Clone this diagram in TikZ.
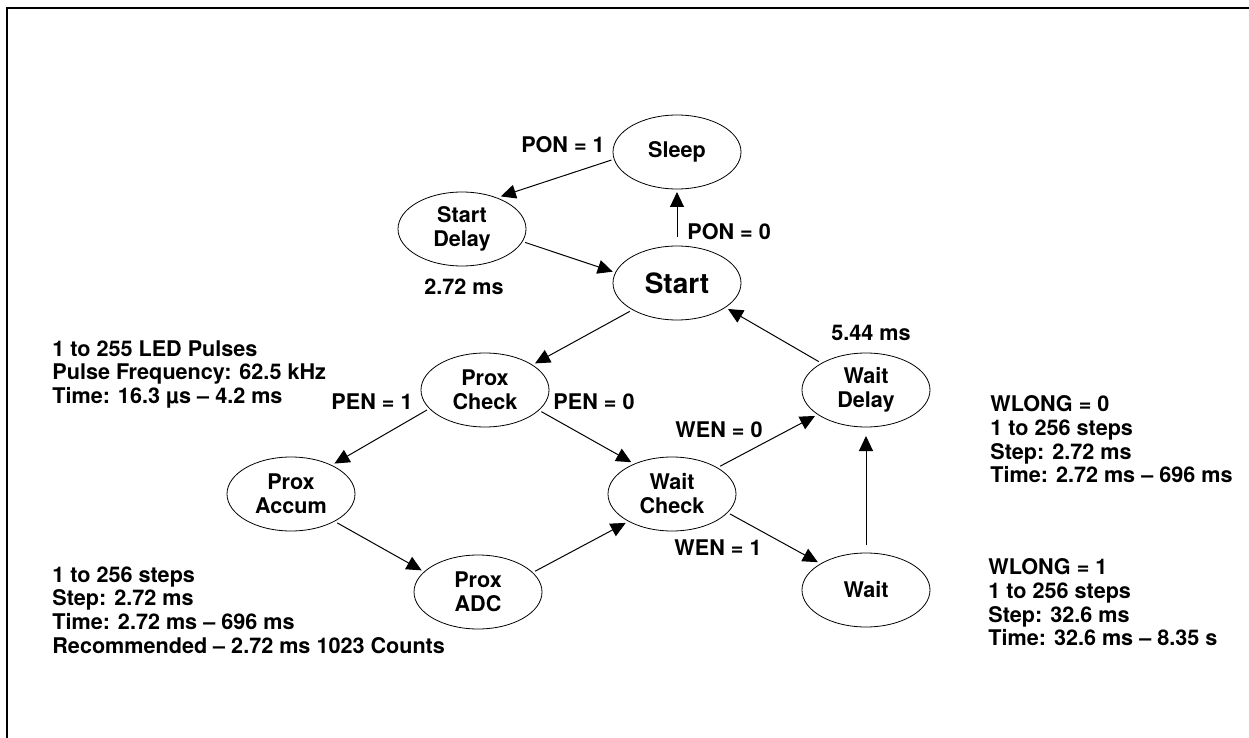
\documentclass[tikz,border=0pt]{standalone}
\usepackage{fontspec}
\setmainfont{TeX Gyre Heros}
\usetikzlibrary{arrows.meta,shapes.geometric}

\tikzset{
    state/.style = {draw, ellipse, minimum width=64pt, minimum height=37pt, inner sep=0pt, outer sep=1.5pt, align=center, font=\fontsize{10.8}{12}\selectfont\bfseries},
    lbl/.style = {inner sep=0pt, font=\fontsize{10.8}{12}\selectfont\bfseries},
    info/.style = {inner sep=0pt, anchor=north west, align=left, font=\fontsize{10.8}{11.9}\selectfont\bfseries},
    trans/.style = {-{Triangle[length=7.5pt,width=7pt]}, line width=.5pt}
}

\begin{document}
\begin{tikzpicture}[x=.5pt, y=-.5pt]
        \useasboundingbox (0,0) rectangle (1249,738);
        \draw[line width=.9pt] (7,738) |- (1249,8);

        \node[state] (sleep) at (677,152) {Sleep};
        \node[state] (sdelay) at (462,229) {Start\\Delay};
        \node[state, font=\fontsize{14}{16}\selectfont\bfseries] (start) at (677,283) {Start};
        \node[state] (pcheck) at (485,390) {Prox\\Check};
        \node[state] (wdelay) at (866,390) {Wait\\Delay};
        \node[state] (paccum) at (291,494) {Prox\\Accum};
        \node[state] (wcheck) at (672,494) {Wait\\Check};
        \node[state] (padc) at (478,592) {Prox\\ADC};
        \node[state] (wait) at (866,590) {Wait};

        \draw[trans] (sleep.187) -- (sdelay.40);
        \draw[trans] (sdelay.348) -- (start.170);
        \draw[trans, shorten <=3pt] (start.north) -- (sleep.south);
        \draw[trans] (start.211) -- (pcheck.28);
        \draw[trans] (wdelay.149) -- (start.333);
        \draw[trans] (pcheck.199) -- (paccum.35);
        \draw[trans] (pcheck.339) -- (wcheck.142);
        \draw[trans] (paccum.328) -- (padc.159);
        \draw[trans] (padc.20) -- (wcheck.212);
        \draw[trans] (wcheck.30) -- (wdelay.207);
        \draw[trans] (wcheck.341) -- (wait.150);
        \draw[trans, shorten <=2.5pt, shorten >=3pt] (wait.north) -- (wdelay.south);

        % conditions and times
        \node[lbl] (pon1) at (563,145) {PON = 1};
        \node[lbl, anchor=west] (pon0) at (687,232) {PON = 0};
        \node[lbl] (tstart) at (464,287) {2.72 ms};
        \node[lbl] (twait) at (871,333) {5.44 ms};
        \node[lbl] (pen1) at (372,402) {PEN = 1};
        \node[lbl] (pen0) at (594,402) {PEN = 0};
        \node[lbl] (wen0) at (719,430) {WEN = 0};
        \node[lbl] (wen1) at (718,548) {WEN = 1};

        \node[info] (pulses) at (52,340) {1 to 255 LED Pulses\\Pulse Frequency: 62.5 kHz\\Time: 16.3 µs – 4.2 ms};
        \node[info] (psteps) at (52,566) {1 to 256 steps\\Step: 2.72 ms\\Time: 2.72 ms – 696 ms\\Recommended – 2.72 ms 1023 Counts};
        \node[info] (wlong0) at (990,395) {WLONG = 0\\1 to 256 steps\\Step: 2.72 ms\\Time: 2.72 ms – 696 ms};
        \node[info] (wlong1) at (988,558) {WLONG = 1\\1 to 256 steps\\Step: 32.6 ms\\Time: 32.6 ms – 8.35 s};
    \end{tikzpicture}
\end{document}
